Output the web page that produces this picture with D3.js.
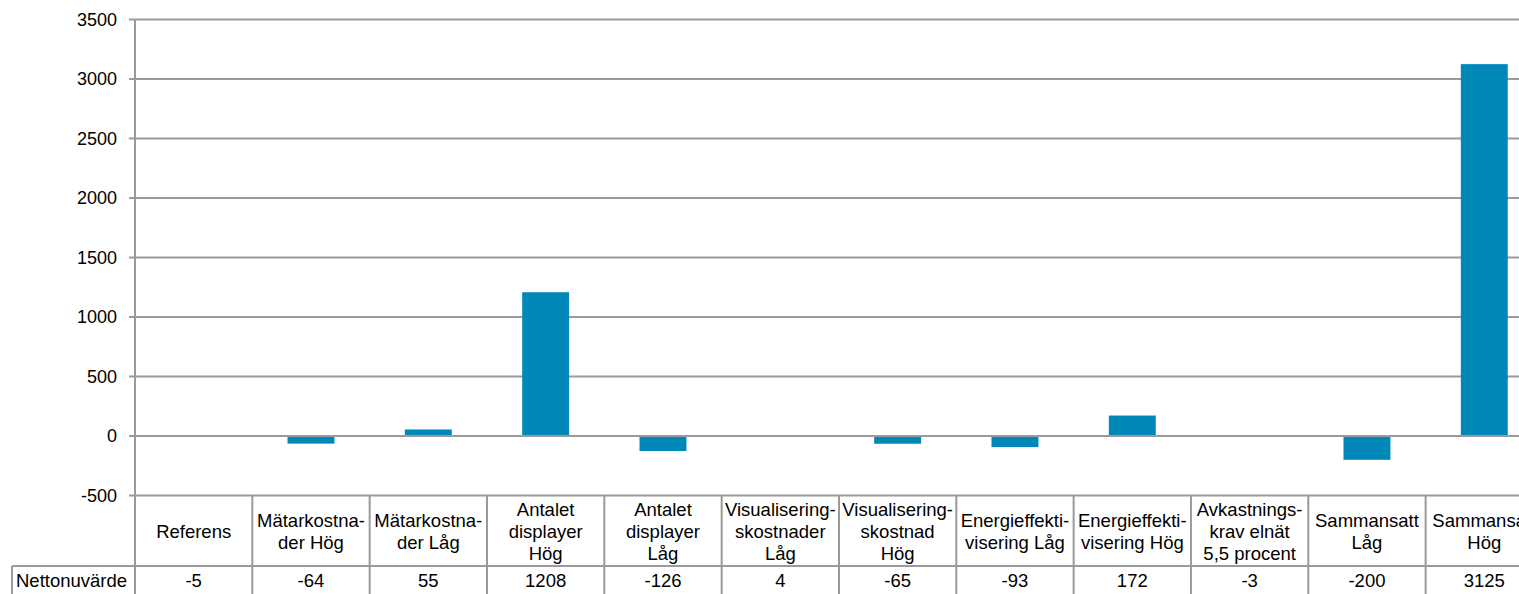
<!DOCTYPE html>
<html>
<head>
<meta charset="utf-8">
<script src="https://cdn.jsdelivr.net/npm/d3@7"></script>
<style>
    body { margin: 0; background: #fff; overflow: hidden; }
    text { font-family: 'Liberation Sans', Arial, sans-serif; fill: #000; }
</style>
</head>
<body>
<div id="chart"></div>
<script>
const categories = [
    ['Referens'],
    ['Mätarkostna-', 'der Hög'],
    ['Mätarkostna-', 'der Låg'],
    ['Antalet', 'displayer', 'Hög'],
    ['Antalet', 'displayer', 'Låg'],
    ['Visualisering-', 'skostnader', 'Låg'],
    ['Visualisering-', 'skostnad', 'Hög'],
    ['Energieffekti-', 'visering Låg'],
    ['Energieffekti-', 'visering Hög'],
    ['Avkastnings-', 'krav elnät', '5,5 procent'],
    ['Sammansatt', 'Låg'],
    ['Sammansatt', 'Hög'],
];
const seriesName = 'Nettonuvärde';
const values = [-5, -64, 55, 1208, -126, 4, -65, -93, 172, -3, -200, 3125];
const yTicks = [-500, 0, 500, 1000, 1500, 2000, 2500, 3000, 3500];

const width = 1519;
const height = 594;
const margin = { top: 19.5, left: 135, bottom: 495.5 };
const bandW = 117.33;
const headerBottom = 566;
const gridColor = '#9a9a9a';
const barColor = '#0089b8';

const svg = d3
    .select('#chart')
    .append('svg')
    .attr('width', width)
    .attr('height', height);

const idx = categories.map((_, i) => i);

const xScale = d3
    .scaleBand()
    .domain(idx)
    .range([margin.left, margin.left + bandW * categories.length])
    .paddingInner(0)
    .paddingOuter(0);

const yScale = d3
    .scaleLinear()
    .domain([-500, 3500])
    .range([margin.bottom, margin.top]);

// gridlines
svg.append('g')
    .selectAll('line')
    .data(yTicks)
    .join('line')
    .attr('x1', margin.left - 6)
    .attr('x2', xScale.range()[1])
    .attr('y1', (d) => yScale(d))
    .attr('y2', (d) => yScale(d))
    .attr('stroke', gridColor)
    .attr('stroke-width', 2);

// y labels
svg.append('g')
    .selectAll('text')
    .data(yTicks)
    .join('text')
    .attr('x', 117)
    .attr('y', (d) => yScale(d))
    .attr('dy', '0.36em')
    .attr('text-anchor', 'end')
    .attr('font-size', '18px')
    .text((d) => d);

// bars
const barW = bandW * 0.4;
svg.append('g')
    .selectAll('rect')
    .data(values)
    .join('rect')
    .attr('x', (_, i) => xScale(i) + (bandW - barW) / 2)
    .attr('y', (d) => yScale(Math.max(0, d)))
    .attr('width', barW)
    .attr('height', (d) => Math.abs(yScale(d) - yScale(0)))
    .attr('fill', barColor);

// zero line over bars
svg.append('line')
    .attr('x1', margin.left)
    .attr('x2', xScale.range()[1])
    .attr('y1', yScale(0))
    .attr('y2', yScale(0))
    .attr('stroke', gridColor)
    .attr('stroke-width', 2);

// data table
const table = svg.append('g');
const tableBottom = height + 10;

table.selectAll('line.col')
    .data(d3.range(categories.length + 1))
    .join('line')
    .attr('class', 'col')
    .attr('x1', (i) => margin.left + i * bandW)
    .attr('x2', (i) => margin.left + i * bandW)
    .attr('y1', (i) => (i === 0 ? margin.top : margin.bottom))
    .attr('y2', tableBottom)
    .attr('stroke', gridColor)
    .attr('stroke-width', 2);

table.append('line')
    .attr('x1', 12)
    .attr('x2', xScale.range()[1])
    .attr('y1', headerBottom)
    .attr('y2', headerBottom)
    .attr('stroke', gridColor)
    .attr('stroke-width', 2);

table.append('line')
    .attr('x1', 12)
    .attr('x2', 12)
    .attr('y1', headerBottom)
    .attr('y2', tableBottom)
    .attr('stroke', gridColor)
    .attr('stroke-width', 2);

const lineH = 22;
const headerMid = (margin.bottom + headerBottom) / 2;

table.selectAll('text.head')
    .data(categories)
    .join('text')
    .attr('class', 'head')
    .attr('text-anchor', 'middle')
    .attr('font-size', '18.5px')
    .each(function (lines, i) {
        d3.select(this)
            .selectAll('tspan')
            .data(lines)
            .join('tspan')
            .attr('x', xScale(i) + bandW / 2)
            .attr('y', (_, j) => headerMid + (j - (lines.length - 1) / 2) * lineH + 7)
            .text((d) => d);
    });

table.selectAll('text.val')
    .data(values)
    .join('text')
    .attr('class', 'val')
    .attr('x', (_, i) => xScale(i) + bandW / 2)
    .attr('y', 587)
    .attr('text-anchor', 'middle')
    .attr('font-size', '18.5px')
    .text((d) => d);

table.append('text')
    .attr('x', 16)
    .attr('y', 587)
    .attr('font-size', '18.5px')
    .text(seriesName);
</script>
</body>
</html>
